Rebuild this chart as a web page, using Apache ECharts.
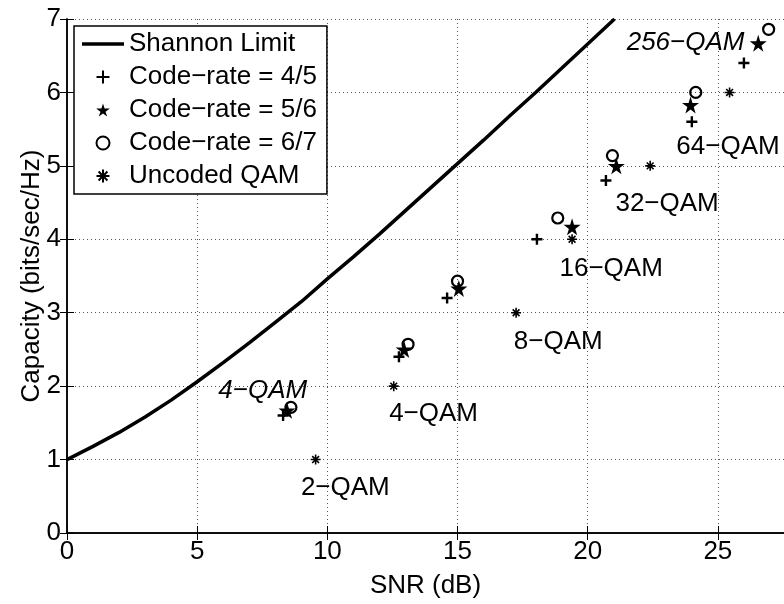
<!DOCTYPE html>
<html>
<head>
<meta charset="utf-8">
<script src="https://cdn.jsdelivr.net/npm/echarts@6/dist/echarts.min.js"></script>
<style>html,body{margin:0;padding:0;background:#fff}#c{width:784px;height:604px}</style>
</head>
<body>
<div id="c"></div>
<script>
// ---- data ----
const shannonSNR = [0, 1, 2, 3, 4, 5, 6, 7, 8, 9, 10, 11, 12, 13, 14, 15, 16, 17, 18, 19, 20, 21.03];
const shannonCap = [1.0, 1.18, 1.37, 1.58, 1.81, 2.06, 2.32, 2.59, 2.87, 3.15, 3.46, 3.76, 4.07, 4.39, 4.71, 5.03, 5.35, 5.68, 6.0, 6.33, 6.66, 7.0];

const rate45SNR = [8.3, 12.75, 14.6, 18.05, 20.7, 24.0, 26.0];
const rate45Cap = [1.6, 2.4, 3.2, 4.0, 4.8, 5.6, 6.4];
const rate56SNR = [8.45, 12.95, 15.05, 19.4, 21.1, 23.95, 26.55];
const rate56Cap = [1.67, 2.5, 3.33, 4.17, 5.0, 5.83, 6.67];
const rate67SNR = [8.6, 13.1, 15.0, 18.85, 20.95, 24.15, 26.95];
const rate67Cap = [1.71, 2.57, 3.43, 4.29, 5.14, 6.0, 6.86];
const uncodedSNR = [9.55, 12.55, 17.25, 19.4, 22.4, 25.45];
const uncodedCap = [1, 2, 3, 4, 5, 6];

const uncodedLabels = ['2−QAM', '4−QAM', '8−QAM', '16−QAM', '32−QAM', '64−QAM'];
const uncodedLabelSNR = [10.69, 14.08, 18.87, 20.9, 23.05, 25.39];
const uncodedLabelCap = [0.70, 1.70, 2.68, 3.68, 4.56, 5.34];
const codedLabels = ['4−QAM', '256−QAM'];
const codedLabelSNR = [7.52, 23.76];
const codedLabelCap = [1.99, 6.73];

const seriesNames = ['Shannon Limit', 'Code−rate = 4/5', 'Code−rate = 5/6', 'Code−rate = 6/7', 'Uncoded QAM'];
const xTicks = [0, 5, 10, 15, 20, 25];
const yTicks = [0, 1, 2, 3, 4, 5, 6, 7];

// ---- chart ----
const FONT = 'Liberation Sans';
const FS = 26;
const zip = (a, b) => a.map((v, i) => [v, b[i]]);
const labelData = (names, xs, ys) => names.map((n, i) => ({ name: n, value: [xs[i], ys[i]] }));

const PLUS = 'path://M5,0L5,10M0,5L10,5';
const ASTER = 'path://M5,0L5,10M0,5L10,5M1.6,1.6L8.4,8.4M1.6,8.4L8.4,1.6';
const STAR = 'path://M50,0L61,35L98,35L68,57L79,91L50,70L21,91L32,57L2,35L39,35Z';
const LINEICON = 'path://M0,0H42V3.5H0Z';

const axisCommon = {
  type: 'value',
  axisLine: { show: true, lineStyle: { color: '#000', width: 1.5 } },
  axisTick: { show: true, inside: true, length: 7, lineStyle: { color: '#000', width: 1 } },
  axisLabel: { show: false },
  splitLine: { show: false }
};

const chart = echarts.init(document.getElementById('c'), null, { renderer: 'canvas' });
chart.setOption({
  animation: false,
  backgroundColor: '#fff',
  textStyle: { fontFamily: FONT },
  grid: { left: 67, top: 19, width: 718, height: 523, containLabel: false },
  xAxis: [
    Object.assign({}, axisCommon, {
      position: 'bottom', min: 0, max: 27.54, interval: 5,
      name: 'SNR (dB)', nameLocation: 'middle', nameGap: 40, nameMoveOverlap: false,
      nameTextStyle: { fontSize: FS, color: '#000', fontFamily: FONT },
      axisLabel: { show: true, fontSize: FS, color: '#000', fontFamily: FONT, margin: 6, showMaxLabel: false,
        formatter: v => (xTicks.indexOf(v) >= 0 ? String(v) : '') },
      splitLine: { show: true, lineStyle: { type: [1, 3], color: '#555', width: 1 } }
    }),
    Object.assign({}, axisCommon, { position: 'top', min: 0, max: 27.54, interval: 5 })
  ],
  yAxis: [
    Object.assign({}, axisCommon, {
      position: 'left', min: 0, max: 7, interval: 1,
      name: 'Capacity (bits/sec/Hz)', nameLocation: 'middle', nameGap: 22, nameMoveOverlap: false,
      nameTextStyle: { fontSize: FS, color: '#000', fontFamily: FONT },
      axisLabel: { show: true, fontSize: FS, color: '#000', fontFamily: FONT, margin: 6,
        formatter: v => (yTicks.indexOf(v) >= 0 ? String(v) : '') },
      splitLine: { show: true, lineStyle: { type: [1, 3], color: '#555', width: 1 } }
    }),
    Object.assign({}, axisCommon, { position: 'right', min: 0, max: 7, interval: 1 })
  ],
  legend: {
    left: 74, top: 26, orient: 'vertical',
    itemWidth: 42, itemHeight: 13, itemGap: 7,
    padding: [5, 10, 5, 8],
    borderColor: '#000', borderWidth: 1.5, backgroundColor: '#fff',
    textStyle: { fontSize: FS, color: '#000', fontFamily: FONT },
    data: [
      { name: seriesNames[0], icon: LINEICON, itemStyle: { color: '#000' } },
      { name: seriesNames[1] },
      { name: seriesNames[2] },
      { name: seriesNames[3] },
      { name: seriesNames[4] }
    ]
  },
  series: [
    { name: seriesNames[0], type: 'line', symbol: 'none', data: zip(shannonSNR, shannonCap),
      lineStyle: { color: '#000', width: 3.5 }, itemStyle: { color: '#000' }, z: 2 },
    { name: seriesNames[1], type: 'scatter', symbol: PLUS, symbolSize: 11, data: zip(rate45SNR, rate45Cap),
      itemStyle: { color: '#000', borderColor: '#000', borderWidth: 2.4, opacity: 1 }, z: 3 },
    { name: seriesNames[2], type: 'scatter', symbol: STAR, symbolSize: 17, data: zip(rate56SNR, rate56Cap),
      itemStyle: { color: '#000', opacity: 1 }, z: 3 },
    { name: seriesNames[3], type: 'scatter', symbol: 'circle', symbolSize: 11, data: zip(rate67SNR, rate67Cap),
      itemStyle: { color: 'rgba(0,0,0,0)', borderColor: '#000', borderWidth: 2.2, opacity: 1 }, z: 3 },
    { name: seriesNames[4], type: 'scatter', symbol: ASTER, symbolSize: 10, data: zip(uncodedSNR, uncodedCap),
      itemStyle: { color: '#000', borderColor: '#000', borderWidth: 1.6, opacity: 1 }, z: 3 },
    { name: 'uncodedLabels', type: 'scatter', symbolSize: 0, data: labelData(uncodedLabels, uncodedLabelSNR, uncodedLabelCap),
      itemStyle: { opacity: 1 },
      label: { show: true, position: 'inside', offset: [0, 6], formatter: '{b}', fontSize: FS, color: '#000', fontFamily: FONT }, z: 4 },
    { name: 'codedLabels', type: 'scatter', symbolSize: 0, data: labelData(codedLabels, codedLabelSNR, codedLabelCap),
      itemStyle: { opacity: 1 },
      label: { show: true, position: 'inside', offset: [0, 4], formatter: '{b}', fontSize: FS, fontStyle: 'italic', color: '#000', fontFamily: FONT }, z: 4 }
  ]
});
</script>
</body>
</html>
